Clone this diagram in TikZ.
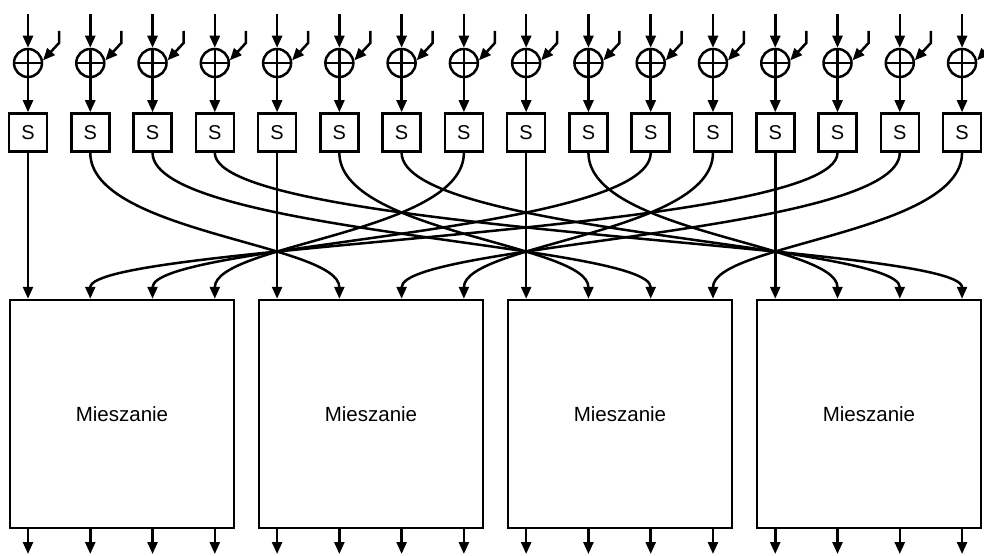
\documentclass[tikz,border=0pt]{standalone}
\usepackage{fontspec}
\setmainfont{Liberation Sans}
\usetikzlibrary{arrows.meta}

\tikzset{
  wire/.style={line width=2.5pt, -{Triangle[length=12pt, width=10pt]}},
  xorgate/.style={circle, draw, line width=2.5pt, minimum size=28pt, inner sep=0pt,
    path picture={\draw[line width=2.5pt] (path picture bounding box.north) -- (path picture bounding box.south)
      (path picture bounding box.west) -- (path picture bounding box.east);}},
  sbox/.style={draw, line width=2.5pt, minimum size=38pt, inner sep=0pt, font=\fontsize{20}{22}\selectfont},
  mixbox/.style={draw, line width=2.5pt, minimum width=224pt, minimum height=228pt, font=\fontsize{20.5}{24}\selectfont},
}

\begin{document}
\begin{tikzpicture}[x=1pt, y=-1pt]
    \useasboundingbox (0,0) rectangle (984,556);

    % key addition and S-boxes
    \foreach \i in {0,...,15} {
        \pgfmathsetmacro{\cx}{28+62.27*\i}
        \coordinate (in\i) at (\cx,14);
        \coordinate (key\i) at (\cx+31,31);
        \coordinate (bend\i) at (\cx+31,43);
        \node[xorgate] (xor\i) at (\cx,63) {};
        \node[sbox] (sb\i) at (\cx,132.5) {S};
        \draw[wire] (in\i) -- (xor\i);
        \draw[wire] (key\i) -- (bend\i) -- (xor\i.10);
        \draw[wire] (xor\i) -- (sb\i);
    }

    % mixing blocks
    \foreach \c in {0,...,3}
        \node[mixbox] (mix\c) at (122+249*\c,414) {Mieszanie};

    % shifted rows
    \foreach \i in {0,...,15} {
        \pgfmathtruncatemacro{\col}{div(\i,4)}
        \pgfmathtruncatemacro{\row}{mod(\i,4)}
        \pgfmathtruncatemacro{\j}{4*mod(\col+\row,4)+\row}
        \pgfmathtruncatemacro{\m}{div(\j,4)}
        \draw[wire] (sb\i.south) .. controls +(0,80) and +(0,-55) .. (sb\j |- mix\m.north);
    }

    % outputs
    \foreach \j in {0,...,15} {
        \pgfmathtruncatemacro{\m}{div(\j,4)}
        \coordinate (out\j) at (28+62.27*\j,554);
        \draw[wire] (sb\j |- mix\m.south) -- (out\j);
    }
\end{tikzpicture}
\end{document}
